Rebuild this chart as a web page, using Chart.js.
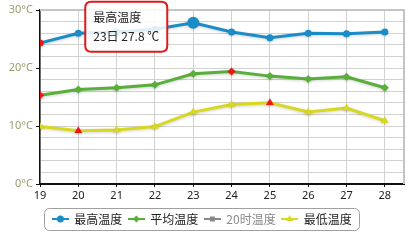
<!DOCTYPE html>
<html>
<head>
<meta charset="utf-8">
<script src="https://cdn.jsdelivr.net/npm/chart.js@4/dist/chart.umd.min.js"></script>
<style>
  html, body { margin: 0; padding: 0; background: #fff; }
</style>
</head>
<body>
<canvas id="tempChart" width="411" height="240"></canvas>
<script>
// days of the month on the x axis
const days = [19, 20, 21, 22, 23, 24, 25, 26, 27, 28]
const highTemps = [24.3, 26.0, 26.2, 26.7, 27.8, 26.2, 25.2, 26.0, 25.9, 26.2]
const avgTemps = [15.3, 16.3, 16.6, 17.1, 19.0, 19.4, 18.6, 18.1, 18.5, 16.6]
const hourTemps = [] // 20时温度: no readings shown
const lowTemps = [9.9, 9.2, 9.3, 9.9, 12.4, 13.7, 14.0, 12.4, 13.1, 10.9]
const yLabelValues = [0, 10, 20, 30]

const seriesNames = ['最高温度', '平均温度', '20时温度', '最低温度']
const seriesColors = ['#1a8cc8', '#5aae3a', '#888888', '#d8d820']
const seriesShapes = ['circle', 'rectRot', 'rect', 'triangle']
const seriesRadius = [3.5, 4, 3.5, 4.5]
const extremeColor = '#ee1515'

const toPoints = vals => vals.map((v, i) => ({ x: days[i], y: v }))

function markColor(vals, base) {
  const lo = Math.min(...vals), hi = Math.max(...vals)
  return ctx => {
    const v = vals[ctx.dataIndex]
    return (v === lo || v === hi) ? extremeColor : base
  }
}

// small line+marker pictures for the legend
function legendIcon(color, shape, radius) {
  const c = document.createElement('canvas')
  c.width = 17
  c.height = 10
  const g = c.getContext('2d')
  g.strokeStyle = color
  g.fillStyle = color
  g.lineWidth = 2
  g.beginPath()
  g.moveTo(0, 5)
  g.lineTo(17, 5)
  g.stroke()
  Chart.helpers.drawPoint(g, { pointStyle: shape, radius: radius, borderWidth: 0, rotation: 0 }, 8.5, 5)
  return c
}

const allSeries = [highTemps, avgTemps, hourTemps, lowTemps]
const datasets = allSeries.map((vals, i) => ({
  label: seriesNames[i],
  data: toPoints(vals),
  borderColor: seriesColors[i],
  borderWidth: 3,
  pointStyle: seriesShapes[i],
  pointRadius: seriesRadius[i],
  pointHoverRadius: seriesRadius[i] + 2.5,
  pointBorderWidth: 0,
  pointHoverBorderWidth: 0,
  pointBackgroundColor: vals.length ? markColor(vals, seriesColors[i]) : seriesColors[i],
  pointHoverBackgroundColor: seriesColors[i],
  tension: 0,
  fill: false,
}))

const legendIcons = seriesNames.map((n, i) => legendIcon(seriesColors[i], seriesShapes[i], i === 3 ? 4 : 3.5))

Chart.Tooltip.positioners.besidePoint = function(items) {
  if (!items.length) return false
  const el = items[0].element
  return { x: el.x, y: el.y + 4, xAlign: 'right', yAlign: 'center' }
}

const framePlugin = {
  id: 'frame',
  beforeDatasetsDraw(chart) {
    const { ctx, chartArea: a } = chart
    ctx.save()
    ctx.strokeStyle = '#c4c4c4'
    ctx.lineWidth = 2
    ctx.beginPath()
    ctx.moveTo(a.left, a.top)
    ctx.lineTo(a.right, a.top)
    ctx.lineTo(a.right, a.bottom)
    ctx.stroke()
    ctx.restore()
  },
  beforeDatasetDraw(chart) {
    const ctx = chart.ctx
    ctx.save()
    ctx.shadowColor = 'rgba(0,0,0,0.18)'
    ctx.shadowBlur = 3
    ctx.shadowOffsetY = 1
  },
  afterDatasetDraw(chart) {
    chart.ctx.restore()
  },
  afterDraw(chart) {
    const lg = chart.legend
    if (!lg || !lg.legendHitBoxes.length) return
    const boxes = lg.legendHitBoxes
    const left = Math.min(...boxes.map(b => b.left)) - 8
    const right = Math.max(...boxes.map(b => b.left + b.width)) + 8
    const top = lg.top + 0.5
    const ctx = chart.ctx
    ctx.save()
    ctx.strokeStyle = '#a0a0a0'
    ctx.lineWidth = 1
    ctx.beginPath()
    ctx.roundRect(Math.round(left) + 0.5, Math.round(top) + 0.5, Math.round(right - left), 22, 5)
    ctx.stroke()
    ctx.restore()
  },
}

const chart = new Chart(document.getElementById('tempChart'), {
  type: 'line',
  data: { datasets },
  options: {
    responsive: false,
    animation: false,
    events: [],
    layout: { padding: { top: 10, right: 7, bottom: 5, left: 0 } },
    font: { family: '"Noto Sans CJK SC", "Noto Sans", sans-serif' },
    scales: {
      x: {
        type: 'linear',
        min: days[0],
        max: days[days.length - 1] + 0.5,
        afterBuildTicks: s => { s.ticks = s.ticks.filter(t => Number.isInteger(t.value)) },
        afterFit: s => { s.height = 23 },
        border: { color: '#111', width: 2 },
        grid: { color: '#d2d2d2', lineWidth: 1, tickLength: 3, tickColor: '#111' },
        ticks: {
          stepSize: 1,
          includeBounds: false,
          autoSkip: false,
          maxRotation: 0,
          color: '#222',
          padding: 2,
          font: { size: 11, family: '"Noto Sans", "DejaVu Sans", sans-serif' },
          callback: v => String(v),
        },
      },
      y: {
        min: yLabelValues[0],
        max: yLabelValues[yLabelValues.length - 1],
        afterFit: s => { s.width = 40 },
        border: { color: '#111', width: 1.5 },
        grid: {
          color: '#d2d2d2',
          lineWidth: 1,
          tickLength: 4,
          tickColor: c => yLabelValues.includes(c.tick.value) ? '#111' : 'rgba(0,0,0,0)',
        },
        ticks: {
          stepSize: 2,
          autoSkip: false,
          color: '#9a9c6a',
          padding: 3,
          font: { size: 11, family: '"Noto Sans", "DejaVu Sans", sans-serif' },
          callback: v => yLabelValues.includes(v) ? v + '°C' : '',
        },
      },
    },
    plugins: {
      legend: {
        position: 'bottom',
        labels: {
          usePointStyle: true,
          pointStyleWidth: 16,
          padding: 6,
          font: { size: 12, family: '"Noto Sans CJK SC", sans-serif' },
          generateLabels: ch => ch.data.datasets.map((ds, i) => ({
            text: ds.label,
            datasetIndex: i,
            pointStyle: legendIcons[i],
            fillStyle: seriesColors[i],
            strokeStyle: seriesColors[i],
            lineWidth: 0,
            hidden: false,
            fontColor: i === 2 ? '#8a8a8a' : '#222',
          })),
        },
      },
      tooltip: {
        position: 'besidePoint',
        backgroundColor: 'rgba(255,255,255,0.86)',
        borderColor: '#dd1a1a',
        borderWidth: 2,
        cornerRadius: 6,
        caretSize: 0,
        caretPadding: 26,
        padding: { x: 8, y: 8 },
        titleColor: '#222',
        bodyColor: '#222',
        titleFont: { size: 12, weight: 'normal', family: '"Noto Sans CJK SC", sans-serif' },
        bodyFont: { size: 12, family: '"Noto Sans CJK SC", sans-serif' },
        titleMarginBottom: 5,
        displayColors: false,
        callbacks: {
          title: items => items[0].dataset.label,
          label: item => item.raw.x + '日 ' + item.raw.y.toFixed(1) + ' ℃',
        },
      },
    },
  },
  plugins: [framePlugin],
})

// show the tooltip on the highest point of 最高温度
const peak = { datasetIndex: 0, index: highTemps.indexOf(Math.max(...highTemps)) }
chart.setActiveElements([peak])
chart.tooltip.setActiveElements([peak], { x: 0, y: 0 })
chart.update()
</script>
</body>
</html>
